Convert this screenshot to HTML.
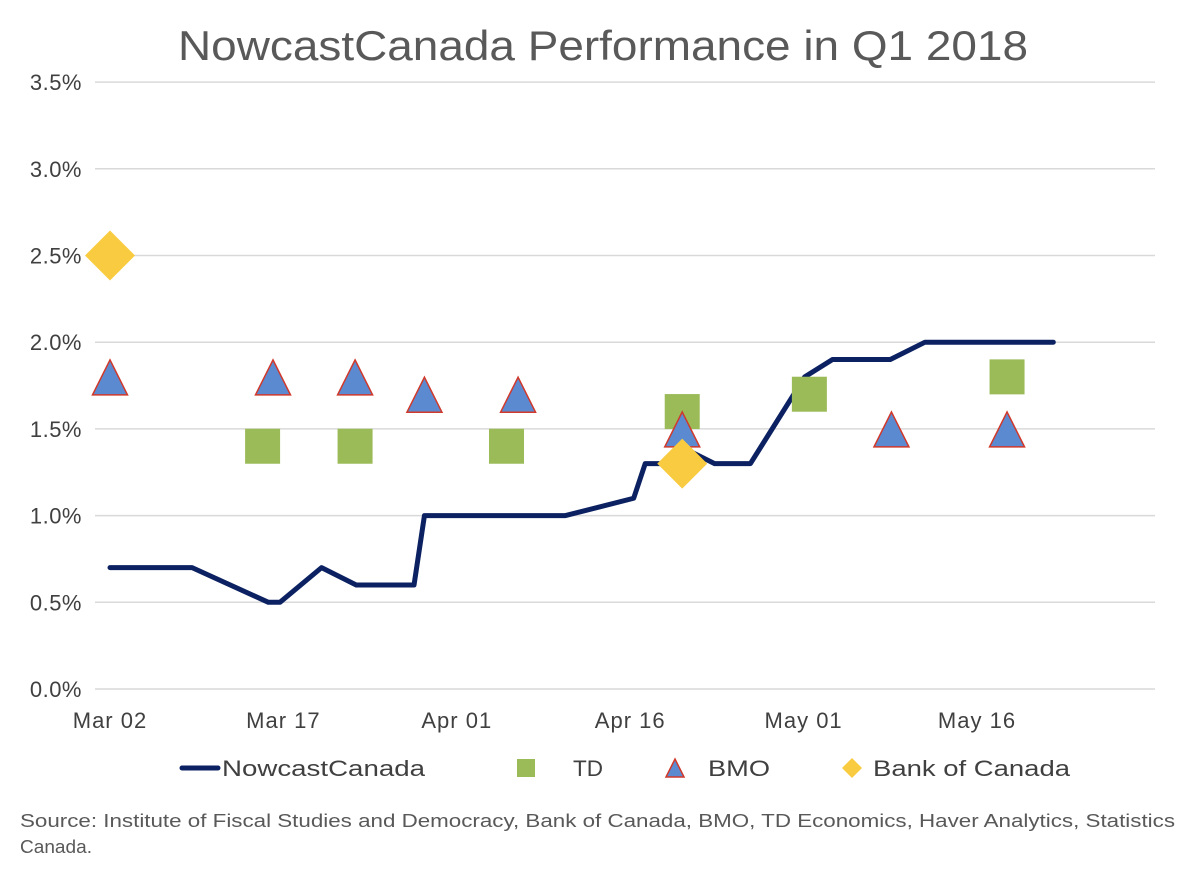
<!DOCTYPE html>
<html><head><meta charset="utf-8"><style>
body{margin:0;background:#fff;}
svg text{font-family:"Liberation Sans",sans-serif;}
</style></head><body>
<svg width="1200" height="879" xmlns="http://www.w3.org/2000/svg">
<rect width="1200" height="879" fill="#fff"/>
<text x="178" y="60" textLength="850" lengthAdjust="spacingAndGlyphs" font-size="42" fill="#595959">NowcastCanada Performance in Q1 2018</text>
<g id="grid"></g>
<g id="xt"></g>
<g id="series"></g>
<g>
<line x1="182" y1="768" x2="218" y2="768" stroke="#0b2161" stroke-width="5" stroke-linecap="round"/>
<text x="222" y="776" textLength="203" lengthAdjust="spacingAndGlyphs" font-size="22" fill="#404040">NowcastCanada</text>
<rect x="517" y="759" width="18" height="18" fill="#9bbb59"/>
<text x="573" y="776" textLength="30" lengthAdjust="spacingAndGlyphs" font-size="22" fill="#404040">TD</text>
<polygon points="675,759 684,777 666,777" fill="#5b8ad0" stroke="#d0392b" stroke-width="1.5"/>
<text x="708" y="776" textLength="62" lengthAdjust="spacingAndGlyphs" font-size="22" fill="#404040">BMO</text>
<polygon points="852,758 862,768 852,778 842,768" fill="#f9cb40"/>
<text x="873" y="776" textLength="197" lengthAdjust="spacingAndGlyphs" font-size="22" fill="#404040">Bank of Canada</text>
</g>
<text x="20" y="827" textLength="1155" lengthAdjust="spacingAndGlyphs" font-size="18" fill="#595959">Source: Institute of Fiscal Studies and Democracy, Bank of Canada, BMO, TD Economics, Haver Analytics, Statistics</text>
<text x="20" y="853" textLength="72" lengthAdjust="spacingAndGlyphs" font-size="18" fill="#595959">Canada.</text>
</svg>
<script>
const yTicks=[0,0.5,1,1.5,2,2.5,3,3.5];
const xTickLabels=["Mar 02","Mar 17","Apr 01","Apr 16","May 01","May 16"];
const xTickDays=[0,15,30,45,60,75];
const nowDays=[0,7.1,13.7,14.7,18.3,21.3,26.3,27.2,39.4,45.3,46.3,48,50.2,52.3,55.4,60.1,62.5,67.5,70.5,81.6];
const nowVals=[0.7,0.7,0.5,0.5,0.7,0.6,0.6,1.0,1.0,1.1,1.3,1.3,1.37,1.3,1.3,1.8,1.9,1.9,2.0,2.0];
const tdDays=[13.2,21.2,34.3,49.5,60.5,77.6];
const tdVals=[1.4,1.4,1.4,1.6,1.7,1.8];
const bmoDays=[0,14.1,21.2,27.2,35.3,49.5,67.6,77.6];
const bmoVals=[1.8,1.8,1.8,1.7,1.7,1.5,1.5,1.5];
const bocDays=[0,49.5];
const bocVals=[2.5,1.3];
const NS="http://www.w3.org/2000/svg";
const X=d=>110+d*11.56, Y=v=>689-v*173.4;
function mk(t,a,p){const e=document.createElementNS(NS,t);for(const k in a)e.setAttribute(k,a[k]);document.getElementById(p).appendChild(e);return e;}
yTicks.forEach(v=>{
 const l=mk('line',{x1:95,x2:1155,y1:Y(v),y2:Y(v),stroke:'#d9d9d9','stroke-width':1.5},'grid');
 
 
 const t=mk('text',{x:82,y:Y(v)+8,'text-anchor':'end','font-size':22,fill:'#404040','letter-spacing':'0.5'},'grid');
 t.textContent=v.toFixed(1)+'%';
 
 
});
xTickLabels.forEach((s,i)=>{
 const t=mk('text',{x:X(xTickDays[i]),y:728,'text-anchor':'middle','font-size':22,fill:'#404040','letter-spacing':'1'},'xt');
 t.textContent=s;
 
 
});
const pl=mk('polyline',{points:nowDays.map((d,i)=>X(d)+','+Y(nowVals[i])).join(' '),fill:'none',stroke:'#0b2161','stroke-width':5,'stroke-linejoin':'round','stroke-linecap':'round'},'series');


tdDays.forEach((d,i)=>{
 const r=mk('rect',{x:X(d)-17.5,y:Y(tdVals[i])-17.5,width:35,height:35,fill:'#9bbb59'},'series');
 
 
});
bmoDays.forEach((d,i)=>{
 const x=X(d),y=Y(bmoVals[i]);
 const p=mk('polygon',{points:`${x},${y-17} ${x+17.5},${y+18} ${x-17.5},${y+18}`,fill:'#5b8ad0',stroke:'#d0392b','stroke-width':1.5},'series');
 
 
});
bocDays.forEach((d,i)=>{
 const x=X(d),y=Y(bocVals[i]);
 const p=mk('polygon',{points:`${x},${y-25} ${x+25},${y} ${x},${y+25} ${x-25},${y}`,fill:'#f9cb40'},'series');
 
 
});
</script>
</body></html>
